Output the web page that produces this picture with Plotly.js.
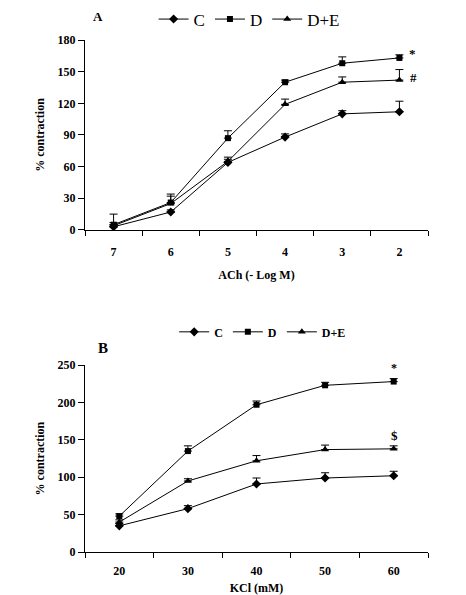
<!DOCTYPE html>
<html>
<head>
<meta charset="utf-8">
<script src="https://cdn.plot.ly/plotly-3.0.1.min.js"></script>
<style>html,body{margin:0;padding:0;background:#fff;}#chart{width:466px;height:595px;}</style>
</head>
<body>
<div id="chart"></div>
<script>
// Panel A: ACh (-Log M)
var achLabels = ['7', '6', '5', '4', '3', '2'];
var achC = [3, 17, 64, 88, 110, 112];
var achCErr = [2, 2, 3, 3, 3, 10];
var achD = [5, 26, 87, 140, 158, 163];
var achDErr = [10, 8, 7, 2, 6, 3];
var achDE = [4, 25, 65, 119, 140, 142];
var achDEErr = [3, 7, 4, 5, 5, 10];

// Panel B: KCl (mM)
var kclLabels = ['20', '30', '40', '50', '60'];
var kclC = [35, 58, 91, 99, 102];
var kclCErr = [3, 4, 8, 7, 6];
var kclD = [48, 135, 197, 223, 228];
var kclDErr = [3, 7, 5, 4, 4];
var kclDE = [40, 95, 122, 137, 138];
var kclDEErr = [3, 3, 7, 6, 4];

var seriesNames = ['C', 'D', 'D+E'];
var symbols = ['diamond', 'square', 'triangle-up'];

var FONT = 'Liberation Serif, Times New Roman, serif';

function zeros(a) { return a.map(function () { return 0; }); }

function mk(x, y, err, idx, xa, ya, leg) {
  return {
    x: x, y: y, type: 'scatter', mode: 'lines+markers',
    name: seriesNames[idx], xaxis: xa, yaxis: ya, legend: leg,
    line: {color: '#000', width: 1},
    marker: {symbol: symbols[idx], size: idx === 1 ? 6 : 7, color: '#000'},
    error_y: {type: 'data', symmetric: false, array: err, arrayminus: zeros(err),
              color: '#000', thickness: 1, width: 4}
  };
}

var data = [
  mk(achLabels, achC, achCErr, 0, 'x', 'y', 'legend'),
  mk(achLabels, achD, achDErr, 1, 'x', 'y', 'legend'),
  mk(achLabels, achDE, achDEErr, 2, 'x', 'y', 'legend'),
  mk(kclLabels, kclC, kclCErr, 0, 'x2', 'y2', 'legend2'),
  mk(kclLabels, kclD, kclDErr, 1, 'x2', 'y2', 'legend2'),
  mk(kclLabels, kclDE, kclDEErr, 2, 'x2', 'y2', 'legend2')
];

var tickFont = {family: FONT, size: 12, color: '#000', weight: 'bold'};
var xBase = {
  type: 'category', showgrid: false, zeroline: false, showline: true,
  linecolor: '#000', linewidth: 1, ticks: 'outside', ticklen: 5, tickcolor: '#000',
  tickson: 'boundaries', tickfont: tickFont, fixedrange: true
};
var yBase = {
  showgrid: false, zeroline: false, showline: true, linecolor: '#000', linewidth: 1,
  ticks: 'outside', ticklen: 6, tickcolor: '#000', tickfont: tickFont, fixedrange: true
};

var layout = {
  width: 466, height: 595,
  margin: {l: 85, r: 38, t: 40, b: 43, autoexpand: false},
  paper_bgcolor: '#fff', plot_bgcolor: '#fff',
  font: {family: FONT, color: '#000'},
  xaxis: Object.assign({}, xBase, {
    domain: [0, 1], anchor: 'y', range: [-0.5, 5.5], ticklabelstandoff: 11,
    title: {text: 'ACh (- Log M)', font: {family: FONT, size: 12, weight: 'bold'}, standoff: 12}
  }),
  yaxis: Object.assign({}, yBase, {
    domain: [0.629, 1], anchor: 'x', range: [0, 180], dtick: 30, tick0: 0,
    title: {text: '% contraction', font: {family: FONT, size: 12, weight: 'bold'}, standoff: 10}
  }),
  xaxis2: Object.assign({}, xBase, {
    domain: [0, 1], anchor: 'y2', range: [-0.5, 4.5], ticklabelstandoff: 8,
    title: {text: 'KCl (mM)', font: {family: FONT, size: 12, weight: 'bold'}, standoff: 8}
  }),
  yaxis2: Object.assign({}, yBase, {
    domain: [0, 0.365], anchor: 'x2', range: [0, 250], dtick: 50, tick0: 0,
    title: {text: '% contraction', font: {family: FONT, size: 12, weight: 'bold'}, standoff: 10}
  }),
  showlegend: true,
  legend: {
    orientation: 'h', x: 0.2, y: 1.04, xanchor: 'left', yanchor: 'middle',
    font: {family: FONT, size: 17, color: '#000'}, bgcolor: 'rgba(0,0,0,0)',
    itemwidth: 30, tracegroupgap: 0
  },
  legend2: {
    orientation: 'h', x: 0.26, y: 0.43, xanchor: 'left', yanchor: 'middle',
    font: {family: FONT, size: 12, color: '#000', weight: 'bold'}, bgcolor: 'rgba(0,0,0,0)',
    itemwidth: 30, tracegroupgap: 0
  },
  annotations: [
    {text: '<b>A</b>', xref: 'paper', yref: 'paper', x: 0.038, y: 1.045, showarrow: false,
     xanchor: 'center', yanchor: 'middle', font: {family: FONT, size: 13}},
    {text: '<b>B</b>', xref: 'paper', yref: 'paper', x: 0.052, y: 0.398, showarrow: false,
     xanchor: 'center', yanchor: 'middle', font: {family: FONT, size: 15}},
    {text: '<b>*</b>', xref: 'x', yref: 'y', x: 5, y: achD[5], xshift: 13, yshift: 4,
     showarrow: false, font: {family: FONT, size: 13}},
    {text: '<b>#</b>', xref: 'x', yref: 'y', x: 5, y: achDE[5], xshift: 14, yshift: 3,
     showarrow: false, font: {family: FONT, size: 13}},
    {text: '<b>*</b>', xref: 'x2', yref: 'y2', x: 4, y: kclD[4], xshift: 0, yshift: 14,
     showarrow: false, font: {family: FONT, size: 12}},
    {text: '<b>$</b>', xref: 'x2', yref: 'y2', x: 4, y: kclDE[4], xshift: 1, yshift: 13,
     showarrow: false, font: {family: FONT, size: 13}}
  ]
};

Plotly.newPlot('chart', data, layout, {displayModeBar: false, staticPlot: true});
</script>
</body>
</html>
